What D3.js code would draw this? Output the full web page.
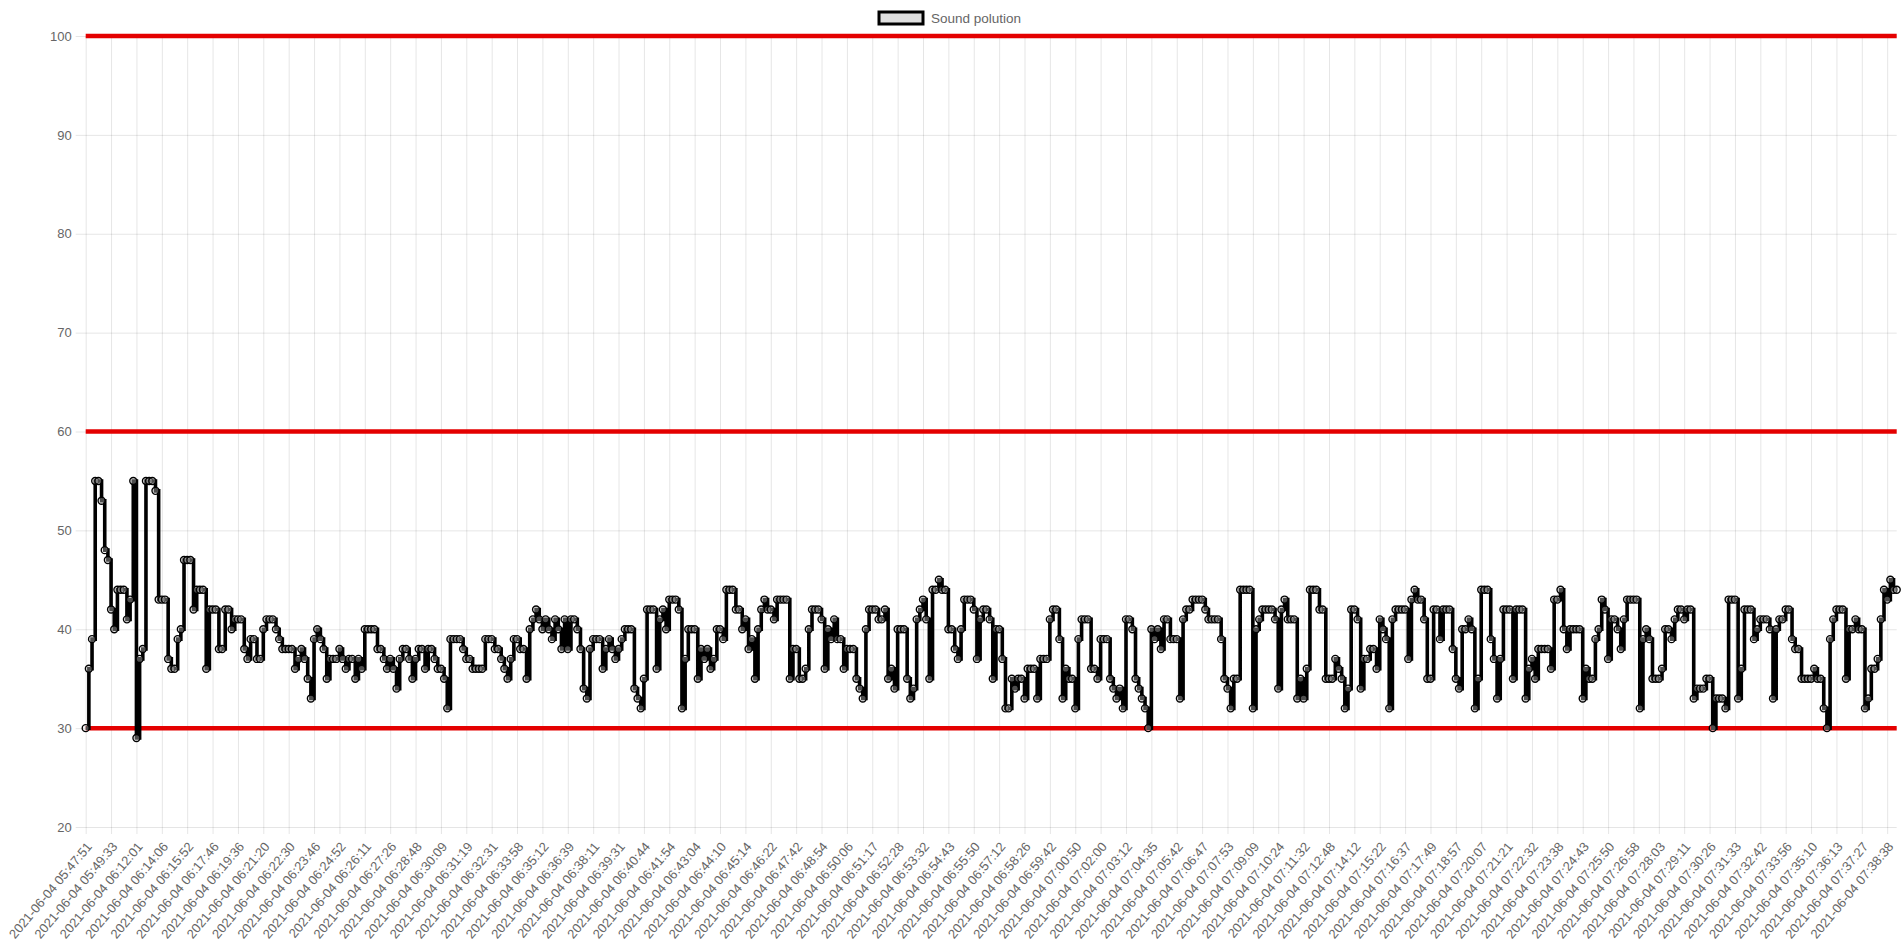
<!DOCTYPE html>
<html>
<head>
<meta charset="utf-8">
<script src="https://cdn.jsdelivr.net/npm/d3@7"></script>
<style>
  html, body { margin: 0; padding: 0; background: #fff; }
  svg { display: block; font-family: "Liberation Sans", Arial, Helvetica, sans-serif; }
</style>
</head>
<body>
<svg id="chart" width="1902" height="951"></svg>
<script>
// ---- data ----
const seriesName = "Sound polution";

const tickLabels = [
  "2021-06-04 05:47:51","2021-06-04 05:49:33","2021-06-04 06:12:01","2021-06-04 06:14:06",
  "2021-06-04 06:15:52","2021-06-04 06:17:46","2021-06-04 06:19:36","2021-06-04 06:21:20",
  "2021-06-04 06:22:30","2021-06-04 06:23:46","2021-06-04 06:24:52","2021-06-04 06:26:11",
  "2021-06-04 06:27:26","2021-06-04 06:28:48","2021-06-04 06:30:09","2021-06-04 06:31:19",
  "2021-06-04 06:32:31","2021-06-04 06:33:58","2021-06-04 06:35:12","2021-06-04 06:36:39",
  "2021-06-04 06:38:11","2021-06-04 06:39:31","2021-06-04 06:40:44","2021-06-04 06:41:54",
  "2021-06-04 06:43:04","2021-06-04 06:44:10","2021-06-04 06:45:14","2021-06-04 06:46:22",
  "2021-06-04 06:47:42","2021-06-04 06:48:54","2021-06-04 06:50:06","2021-06-04 06:51:17",
  "2021-06-04 06:52:28","2021-06-04 06:53:32","2021-06-04 06:54:43","2021-06-04 06:55:50",
  "2021-06-04 06:57:12","2021-06-04 06:58:26","2021-06-04 06:59:42","2021-06-04 07:00:50",
  "2021-06-04 07:02:00","2021-06-04 07:03:12","2021-06-04 07:04:35","2021-06-04 07:05:42",
  "2021-06-04 07:06:47","2021-06-04 07:07:53","2021-06-04 07:09:09","2021-06-04 07:10:24",
  "2021-06-04 07:11:32","2021-06-04 07:12:48","2021-06-04 07:14:12","2021-06-04 07:15:22",
  "2021-06-04 07:16:37","2021-06-04 07:17:49","2021-06-04 07:18:57","2021-06-04 07:20:07",
  "2021-06-04 07:21:21","2021-06-04 07:22:32","2021-06-04 07:23:38","2021-06-04 07:24:43",
  "2021-06-04 07:25:50","2021-06-04 07:26:58","2021-06-04 07:28:03","2021-06-04 07:29:11",
  "2021-06-04 07:30:26","2021-06-04 07:31:33","2021-06-04 07:32:42","2021-06-04 07:33:56",
  "2021-06-04 07:35:10","2021-06-04 07:36:13","2021-06-04 07:37:27","2021-06-04 07:38:38"
];
const labelEvery = 8; // one visible label every 8 samples

const soundValues = [
  30,36,39,55,55,53,48,47,  42,40,44,44,44,41,43,55,  29,37,38,55,55,55,54,43,
  43,43,37,36,36,39,40,47,  47,47,42,44,44,44,36,42,  42,42,38,38,42,42,40,41,
  41,41,38,37,39,39,37,37,  40,41,41,41,40,39,38,38,  38,38,36,37,38,37,35,33,
  39,40,39,38,35,37,37,37,  38,37,36,37,37,35,37,36,  40,40,40,40,38,38,37,36,
  37,36,34,37,38,38,37,35,  37,38,38,36,38,38,37,36,  36,35,32,39,39,39,39,38,
  37,37,36,36,36,36,39,39,  39,38,38,37,36,35,37,39,  39,38,38,35,40,41,42,41,
  40,41,40,39,41,40,38,41,  38,41,41,40,38,34,33,38,  39,39,39,36,38,39,38,37,
  38,39,40,40,40,34,33,32,  35,42,42,42,36,41,42,40,  43,43,43,42,32,37,40,40,
  40,35,38,37,38,36,37,40,  40,39,44,44,44,42,42,40,  41,38,39,35,40,42,43,42,
  42,41,43,43,43,43,35,38,  38,35,35,36,40,42,42,42,  41,36,40,39,41,39,39,36,
  38,38,38,35,34,33,40,42,  42,42,41,41,42,35,36,34,  40,40,40,35,33,34,41,42,
  43,41,35,44,44,45,44,44,  40,40,38,37,40,43,43,43,  42,37,41,42,42,41,35,40,
  40,37,32,32,35,34,35,35,  33,36,36,36,33,37,37,37,  41,42,42,39,33,36,35,35,
  32,39,41,41,41,36,36,35,  39,39,39,35,34,33,34,32,  41,41,40,35,34,33,32,30,
  40,39,40,38,41,41,39,39,  39,33,41,42,42,43,43,43,  43,42,41,41,41,41,39,35,
  34,32,35,35,44,44,44,44,  32,40,41,42,42,42,42,41,  34,42,43,41,41,41,33,35,
  33,36,44,44,44,42,42,35,  35,35,37,36,35,32,34,42,  42,41,34,37,37,38,38,36,
  41,40,39,32,41,42,42,42,  42,37,43,44,43,43,41,35,  35,42,42,39,42,42,42,38,
  35,34,40,40,41,40,32,35,  44,44,44,39,37,33,37,42,  42,42,35,42,42,42,33,36,
  37,35,38,38,38,38,36,43,  43,44,40,38,40,40,40,40,  33,36,35,35,39,40,43,42,
  37,41,41,40,38,41,43,43,  43,43,32,39,40,39,35,35,  35,36,40,40,39,41,42,42,
  41,42,42,33,34,34,34,35,  35,30,33,33,33,32,43,43,  43,33,36,42,42,42,39,40,
  41,41,41,40,33,40,41,41,  42,42,39,38,38,35,35,35,  35,36,35,35,32,30,39,41,
  42,42,42,35,40,40,41,40,  40,32,33,36,36,37,41,44,  43,45,44,44
];

const thresholdValues = [30, 60, 100];
const yTicks = [20, 30, 40, 50, 60, 70, 80, 90, 100];
const yDomain = [20, 100];

// ---- layout ----
const plot = { left: 85.7, right: 1896.7, top: 36, bottom: 827 };
const gridColor = "rgba(0,0,0,0.1)";
const textColor = "#666";

const svg = d3.select("#chart");

const x = d3.scaleLinear().domain([0, soundValues.length - 1]).range([plot.left, plot.right]);
const y = d3.scaleLinear().domain(yDomain).range([plot.bottom, plot.top]);

const xTickIdx = tickLabels.map((_, i) => i * labelEvery);

// vertical gridlines
const gx = svg.append("g")
  .attr("transform", `translate(0,${plot.bottom + 7})`)
  .call(d3.axisBottom(x).tickValues(xTickIdx).tickSizeInner(-(plot.bottom + 7 - plot.top)).tickSizeOuter(0).tickFormat(""));
gx.select(".domain").remove();
gx.selectAll("line").attr("stroke", gridColor);

// horizontal gridlines (extend 10px to the left as tick marks)
const gy = svg.append("g")
  .attr("transform", `translate(${plot.left - 10},0)`)
  .call(d3.axisLeft(y).tickValues(yTicks).tickSizeInner(-(plot.right - plot.left + 10)).tickSizeOuter(0).tickFormat(""));
gy.select(".domain").remove();
gy.selectAll("line").attr("stroke", gridColor);

// y labels
const yl = svg.append("g")
  .attr("transform", `translate(${plot.left},0)`)
  .call(d3.axisLeft(y).tickValues(yTicks).tickSize(0).tickPadding(14).tickFormat(d3.format("d")));
yl.select(".domain").remove();
yl.selectAll("text").attr("fill", textColor).style("font-size", "13px");

// x labels (rotated)
const xl = svg.append("g")
  .attr("transform", `translate(0,${plot.bottom})`)
  .call(d3.axisBottom(x).tickValues(xTickIdx).tickSize(0).tickFormat((d, i) => tickLabels[i]));
xl.select(".domain").remove();
xl.selectAll("text")
  .attr("fill", textColor)
  .style("font-size", "13px")
  .attr("text-anchor", "end")
  .attr("y", 0).attr("dy", "0.35em")
  .attr("transform", "translate(3,17) rotate(-50)");

// threshold lines
svg.append("g").selectAll("line")
  .data(thresholdValues).join("line")
  .attr("x1", plot.left).attr("x2", plot.right)
  .attr("y1", d => y(d)).attr("y2", d => y(d))
  .attr("stroke", "rgb(228,0,0)").attr("stroke-width", 4.5);

// stepped series line
const line = d3.line()
  .x((d, i) => x(i)).y(d => y(d))
  .curve(d3.curveStepAfter);
svg.append("path")
  .datum(soundValues)
  .attr("d", line)
  .attr("fill", "none")
  .attr("stroke", "#000")
  .attr("stroke-width", 3.6)
  .attr("stroke-linejoin", "miter");

// points
svg.append("g").selectAll("circle")
  .data(soundValues).join("circle")
  .attr("cx", (d, i) => x(i)).attr("cy", d => y(d))
  .attr("r", 3.5)
  .attr("fill", "rgba(220,220,220,0.35)")
  .attr("stroke", "#000").attr("stroke-width", 1.4);

// legend
const leg = svg.append("g").attr("transform", "translate(879,12)");
leg.append("rect").attr("x", 0).attr("y", 0).attr("width", 44).attr("height", 12)
  .attr("fill", "rgb(224,224,224)").attr("stroke", "#000").attr("stroke-width", 3);
leg.append("text").attr("x", 52).attr("y", 6).attr("dy", "0.35em")
  .attr("fill", textColor).style("font-size", "13.5px").text(seriesName);
</script>
</body>
</html>
